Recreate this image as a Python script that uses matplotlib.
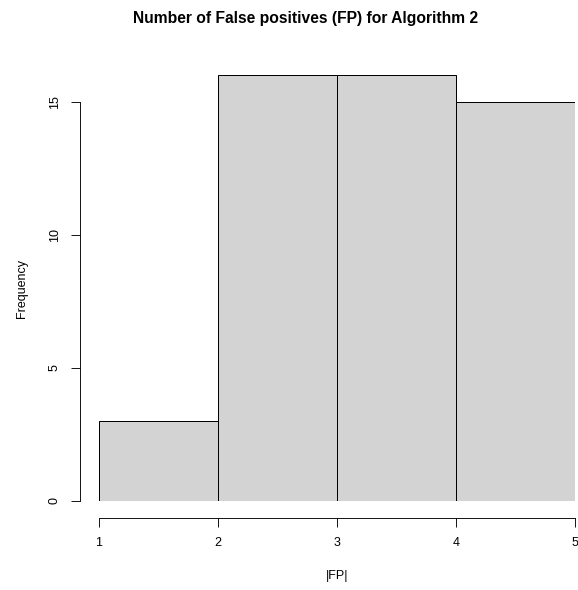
import matplotlib
matplotlib.use("Agg")
import matplotlib.pyplot as plt

# histogram of |FP| counts per run
bin_edges = [1, 2, 3, 4, 5]
counts = [3, 16, 16, 15]
x_ticks = [1, 2, 3, 4, 5]
y_ticks = [0, 5, 10, 15]

plt.rcParams["font.family"] = ["Liberation Sans", "DejaVu Sans"]

W, H, DPI = 578, 590, 72
fig = plt.figure(figsize=(W / DPI, H / DPI), dpi=DPI)
# plot region: x 1..5 -> px 99..575, y 0..16 -> px 501..75.4
ax = fig.add_axes([99 / W, 1 - 501 / H, 476 / W, 425.6 / H])

lefts = bin_edges[:-1]
widths = [b - a for a, b in zip(bin_edges[:-1], bin_edges[1:])]
ax.bar(lefts, counts, width=widths, align="edge", color="#d3d3d3",
       edgecolor="black", linewidth=1.0)

ax.set_xlim(1, 5)
ax.set_ylim(0, 16)

for s in ("top", "right"):
    ax.spines[s].set_visible(False)
ax.spines["bottom"].set_position(("outward", 17))
ax.spines["left"].set_position(("outward", 19))
ax.spines["bottom"].set_bounds(1, 5)
ax.spines["left"].set_bounds(0, 15)
for s in ("bottom", "left"):
    ax.spines[s].set_linewidth(0.9)

ax.set_xticks(x_ticks)
ax.set_yticks(y_ticks)
ax.tick_params(axis="both", length=9, width=0.9, labelsize=12.5, pad=10)
ax.set_yticklabels([str(v) for v in y_ticks], rotation=90, va="center")

ax.set_xlabel("|FP|", fontsize=12.5, labelpad=21)
ax.set_ylabel("Frequency", fontsize=12.5, labelpad=21)
fig.suptitle("Number of False positives (FP) for Algorithm 2",
             fontsize=15.6, fontweight="bold", y=1 - 19 / H, va="center",
             x=306 / W)

fig.savefig("out.png", dpi=DPI)
